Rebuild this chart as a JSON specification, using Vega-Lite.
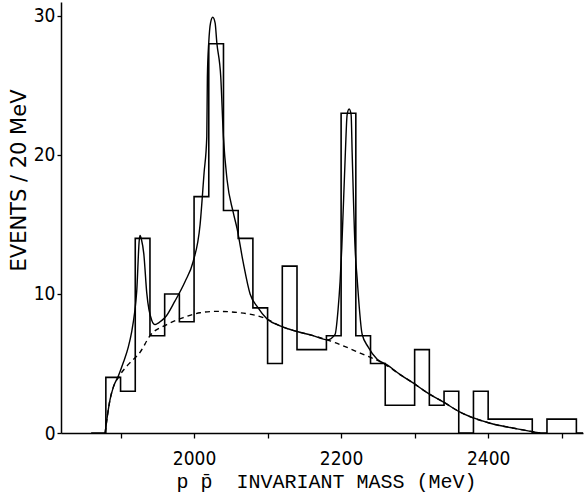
{
  "$schema": "https://vega.github.io/schema/vega-lite/v6.json",
  "width": 522,
  "height": 431,
  "autosize": {"type": "none"},
  "padding": {"left": 61, "top": 2, "right": 1, "bottom": 62},
  "background": "white",
  "config": {
    "view": {"stroke": null},
    "axis": {
      "grid": false,
      "domainColor": "black",
      "domainWidth": 1.5,
      "tickColor": "black",
      "tickWidth": 1.3,
      "labelColor": "black",
      "titleColor": "black",
      "labelFont": "Liberation Sans Narrow, DejaVu Sans Condensed, Roboto Condensed, sans-serif",
      "labelFontSize": 19,
      "titleFont": "Liberation Mono",
      "titleFontWeight": "normal",
      "titleFontSize": 20
    }
  },
  "datasets": {
    "bins": [
      {"lo": 1860, "hi": 1880, "n": 0},
      {"lo": 1880, "hi": 1900, "n": 4},
      {"lo": 1900, "hi": 1920, "n": 3},
      {"lo": 1920, "hi": 1940, "n": 14},
      {"lo": 1940, "hi": 1960, "n": 7},
      {"lo": 1960, "hi": 1980, "n": 10},
      {"lo": 1980, "hi": 2000, "n": 8},
      {"lo": 2000, "hi": 2020, "n": 17},
      {"lo": 2020, "hi": 2040, "n": 28},
      {"lo": 2040, "hi": 2060, "n": 16},
      {"lo": 2060, "hi": 2080, "n": 14},
      {"lo": 2080, "hi": 2100, "n": 9},
      {"lo": 2100, "hi": 2120, "n": 5},
      {"lo": 2120, "hi": 2140, "n": 12},
      {"lo": 2140, "hi": 2160, "n": 6},
      {"lo": 2160, "hi": 2180, "n": 6},
      {"lo": 2180, "hi": 2200, "n": 7},
      {"lo": 2200, "hi": 2220, "n": 23},
      {"lo": 2220, "hi": 2240, "n": 7},
      {"lo": 2240, "hi": 2260, "n": 5},
      {"lo": 2260, "hi": 2280, "n": 2},
      {"lo": 2280, "hi": 2300, "n": 2},
      {"lo": 2300, "hi": 2320, "n": 6},
      {"lo": 2320, "hi": 2340, "n": 2},
      {"lo": 2340, "hi": 2360, "n": 3},
      {"lo": 2360, "hi": 2380, "n": 0},
      {"lo": 2380, "hi": 2400, "n": 3},
      {"lo": 2400, "hi": 2420, "n": 1},
      {"lo": 2420, "hi": 2440, "n": 1},
      {"lo": 2440, "hi": 2460, "n": 1},
      {"lo": 2460, "hi": 2480, "n": 0},
      {"lo": 2480, "hi": 2500, "n": 1},
      {"lo": 2500, "hi": 2520, "n": 1},
      {"lo": 2520, "hi": 2540, "n": 0}
    ],
    "fit": [
      {"m": 1879, "v": 0},
      {"m": 1882, "v": 1.2},
      {"m": 1885.7, "v": 2.4},
      {"m": 1890.2, "v": 3.3},
      {"m": 1897, "v": 4.1},
      {"m": 1904, "v": 5.1},
      {"m": 1910.6, "v": 6.2},
      {"m": 1915.2, "v": 7.3},
      {"m": 1919, "v": 8.6},
      {"m": 1922, "v": 10.2},
      {"m": 1925.5, "v": 13.9},
      {"m": 1926.5, "v": 14.2},
      {"m": 1928.5, "v": 13.9},
      {"m": 1931.6, "v": 12.9},
      {"m": 1935.6, "v": 10.1},
      {"m": 1942.5, "v": 8.1},
      {"m": 1946.9, "v": 7.8},
      {"m": 1956.1, "v": 8.1},
      {"m": 1960.5, "v": 8.3},
      {"m": 1974.1, "v": 9.5},
      {"m": 1987.8, "v": 10.9},
      {"m": 1998.6, "v": 12.3},
      {"m": 2008.2, "v": 15.0},
      {"m": 2013.6, "v": 18.7},
      {"m": 2017.3, "v": 21.3},
      {"m": 2018.1, "v": 25.6},
      {"m": 2020.0, "v": 28.1},
      {"m": 2022.4, "v": 29.5},
      {"m": 2025.4, "v": 29.9},
      {"m": 2028.6, "v": 29.5},
      {"m": 2030.9, "v": 28.1},
      {"m": 2036.3, "v": 25.6},
      {"m": 2039.9, "v": 21.3},
      {"m": 2044.9, "v": 18.2},
      {"m": 2053.1, "v": 15.9},
      {"m": 2058.5, "v": 14.7},
      {"m": 2066.7, "v": 12.3},
      {"m": 2076.2, "v": 10.0},
      {"m": 2085.7, "v": 9.1},
      {"m": 2099.3, "v": 8.2},
      {"m": 2117.0, "v": 7.7},
      {"m": 2140.1, "v": 7.3},
      {"m": 2161.9, "v": 7.0},
      {"m": 2181.0, "v": 6.7},
      {"m": 2191.8, "v": 7.1},
      {"m": 2195.9, "v": 8.9},
      {"m": 2198.6, "v": 10.9},
      {"m": 2200.9, "v": 13.3},
      {"m": 2205.8, "v": 20.2},
      {"m": 2208.2, "v": 22.9},
      {"m": 2210.9, "v": 23.3},
      {"m": 2213.6, "v": 22.9},
      {"m": 2215.0, "v": 20.2},
      {"m": 2219.0, "v": 13.3},
      {"m": 2221.8, "v": 11.1},
      {"m": 2228.6, "v": 7.1},
      {"m": 2236.7, "v": 6.2},
      {"m": 2249.0, "v": 5.3},
      {"m": 2262.6, "v": 4.9},
      {"m": 2280.3, "v": 4.2},
      {"m": 2297.9, "v": 3.6},
      {"m": 2317.0, "v": 2.9},
      {"m": 2340.0, "v": 2.2},
      {"m": 2361.9, "v": 1.5},
      {"m": 2402.7, "v": 0.7},
      {"m": 2439.4, "v": 0.3},
      {"m": 2470.7, "v": 0.0}
    ],
    "bkg": [
      {"m": 1879, "v": 0},
      {"m": 1882, "v": 1.2},
      {"m": 1885.7, "v": 2.4},
      {"m": 1890.2, "v": 3.3},
      {"m": 1897, "v": 4.0},
      {"m": 1910, "v": 4.9},
      {"m": 1926.5, "v": 5.8},
      {"m": 1940.1, "v": 7.0},
      {"m": 1962.9, "v": 7.8},
      {"m": 1985.4, "v": 8.3},
      {"m": 2008.2, "v": 8.65},
      {"m": 2030.9, "v": 8.75},
      {"m": 2062.6, "v": 8.65},
      {"m": 2098.9, "v": 8.2},
      {"m": 2117.0, "v": 7.7},
      {"m": 2140.1, "v": 7.3},
      {"m": 2161.9, "v": 7.0},
      {"m": 2181.0, "v": 6.7},
      {"m": 2191.8, "v": 6.5},
      {"m": 2225.8, "v": 5.75},
      {"m": 2257.5, "v": 5.0},
      {"m": 2280.3, "v": 4.2},
      {"m": 2297.9, "v": 3.6},
      {"m": 2317.0, "v": 2.9},
      {"m": 2340.0, "v": 2.2},
      {"m": 2361.9, "v": 1.5},
      {"m": 2402.7, "v": 0.7},
      {"m": 2439.4, "v": 0.3},
      {"m": 2470.7, "v": 0.0}
    ]
  },
  "layer": [
    {
      "data": {"name": "bins"},
      "transform": [{"fold": ["lo", "hi"]}],
      "mark": {"type": "line", "color": "black", "strokeWidth": 1.6, "interpolate": "linear", "clip": true},
      "encoding": {
        "x": {
          "field": "value", "type": "quantitative",
          "scale": {"domain": [1819, 2529], "nice": false, "zero": false},
          "axis": {
            "values": [1900, 2000, 2100, 2200, 2300, 2400, 2500],
            "format": "d",
            "labelExpr": "datum.value % 200 == 0 ? datum.label : ''",
            "tickSize": 5,
            "labelPadding": 11,
            "title": "p\u00a0p̄\u00a0\u00a0INVARIANT\u00a0MASS\u00a0(MeV)",
            "titleX": 265,
            "titleY": 54,
            "titleAlign": "center",
            "titleBaseline": "alphabetic"
          }
        },
        "y": {
          "field": "n", "type": "quantitative",
          "scale": {"domain": [0, 31], "nice": false},
          "axis": {
            "values": [0, 10, 20, 30],
            "format": "d",
            "tickSize": 4,
            "labelPadding": 2,
            "title": "EVENTS / 20 MeV",
            "titleFont": "DejaVu Sans",
            "titleFontSize": 21,
            "titleAngle": 270,
            "titleX": -36,
            "titleY": 178,
            "titleAlign": "center",
            "titleBaseline": "alphabetic"
          }
        },
        "order": [
          {"field": "lo", "type": "quantitative"},
          {"field": "key", "type": "ordinal", "sort": "descending"}
        ]
      }
    },
    {
      "data": {"name": "fit"},
      "mark": {"type": "line", "color": "black", "strokeWidth": 1.4, "interpolate": "monotone"},
      "encoding": {
        "x": {"field": "m", "type": "quantitative"},
        "y": {"field": "v", "type": "quantitative"}
      }
    },
    {
      "data": {"name": "bkg"},
      "mark": {"type": "line", "color": "black", "strokeWidth": 1.4, "interpolate": "monotone", "strokeDash": [5, 4]},
      "encoding": {
        "x": {"field": "m", "type": "quantitative"},
        "y": {"field": "v", "type": "quantitative"}
      }
    }
  ]
}
